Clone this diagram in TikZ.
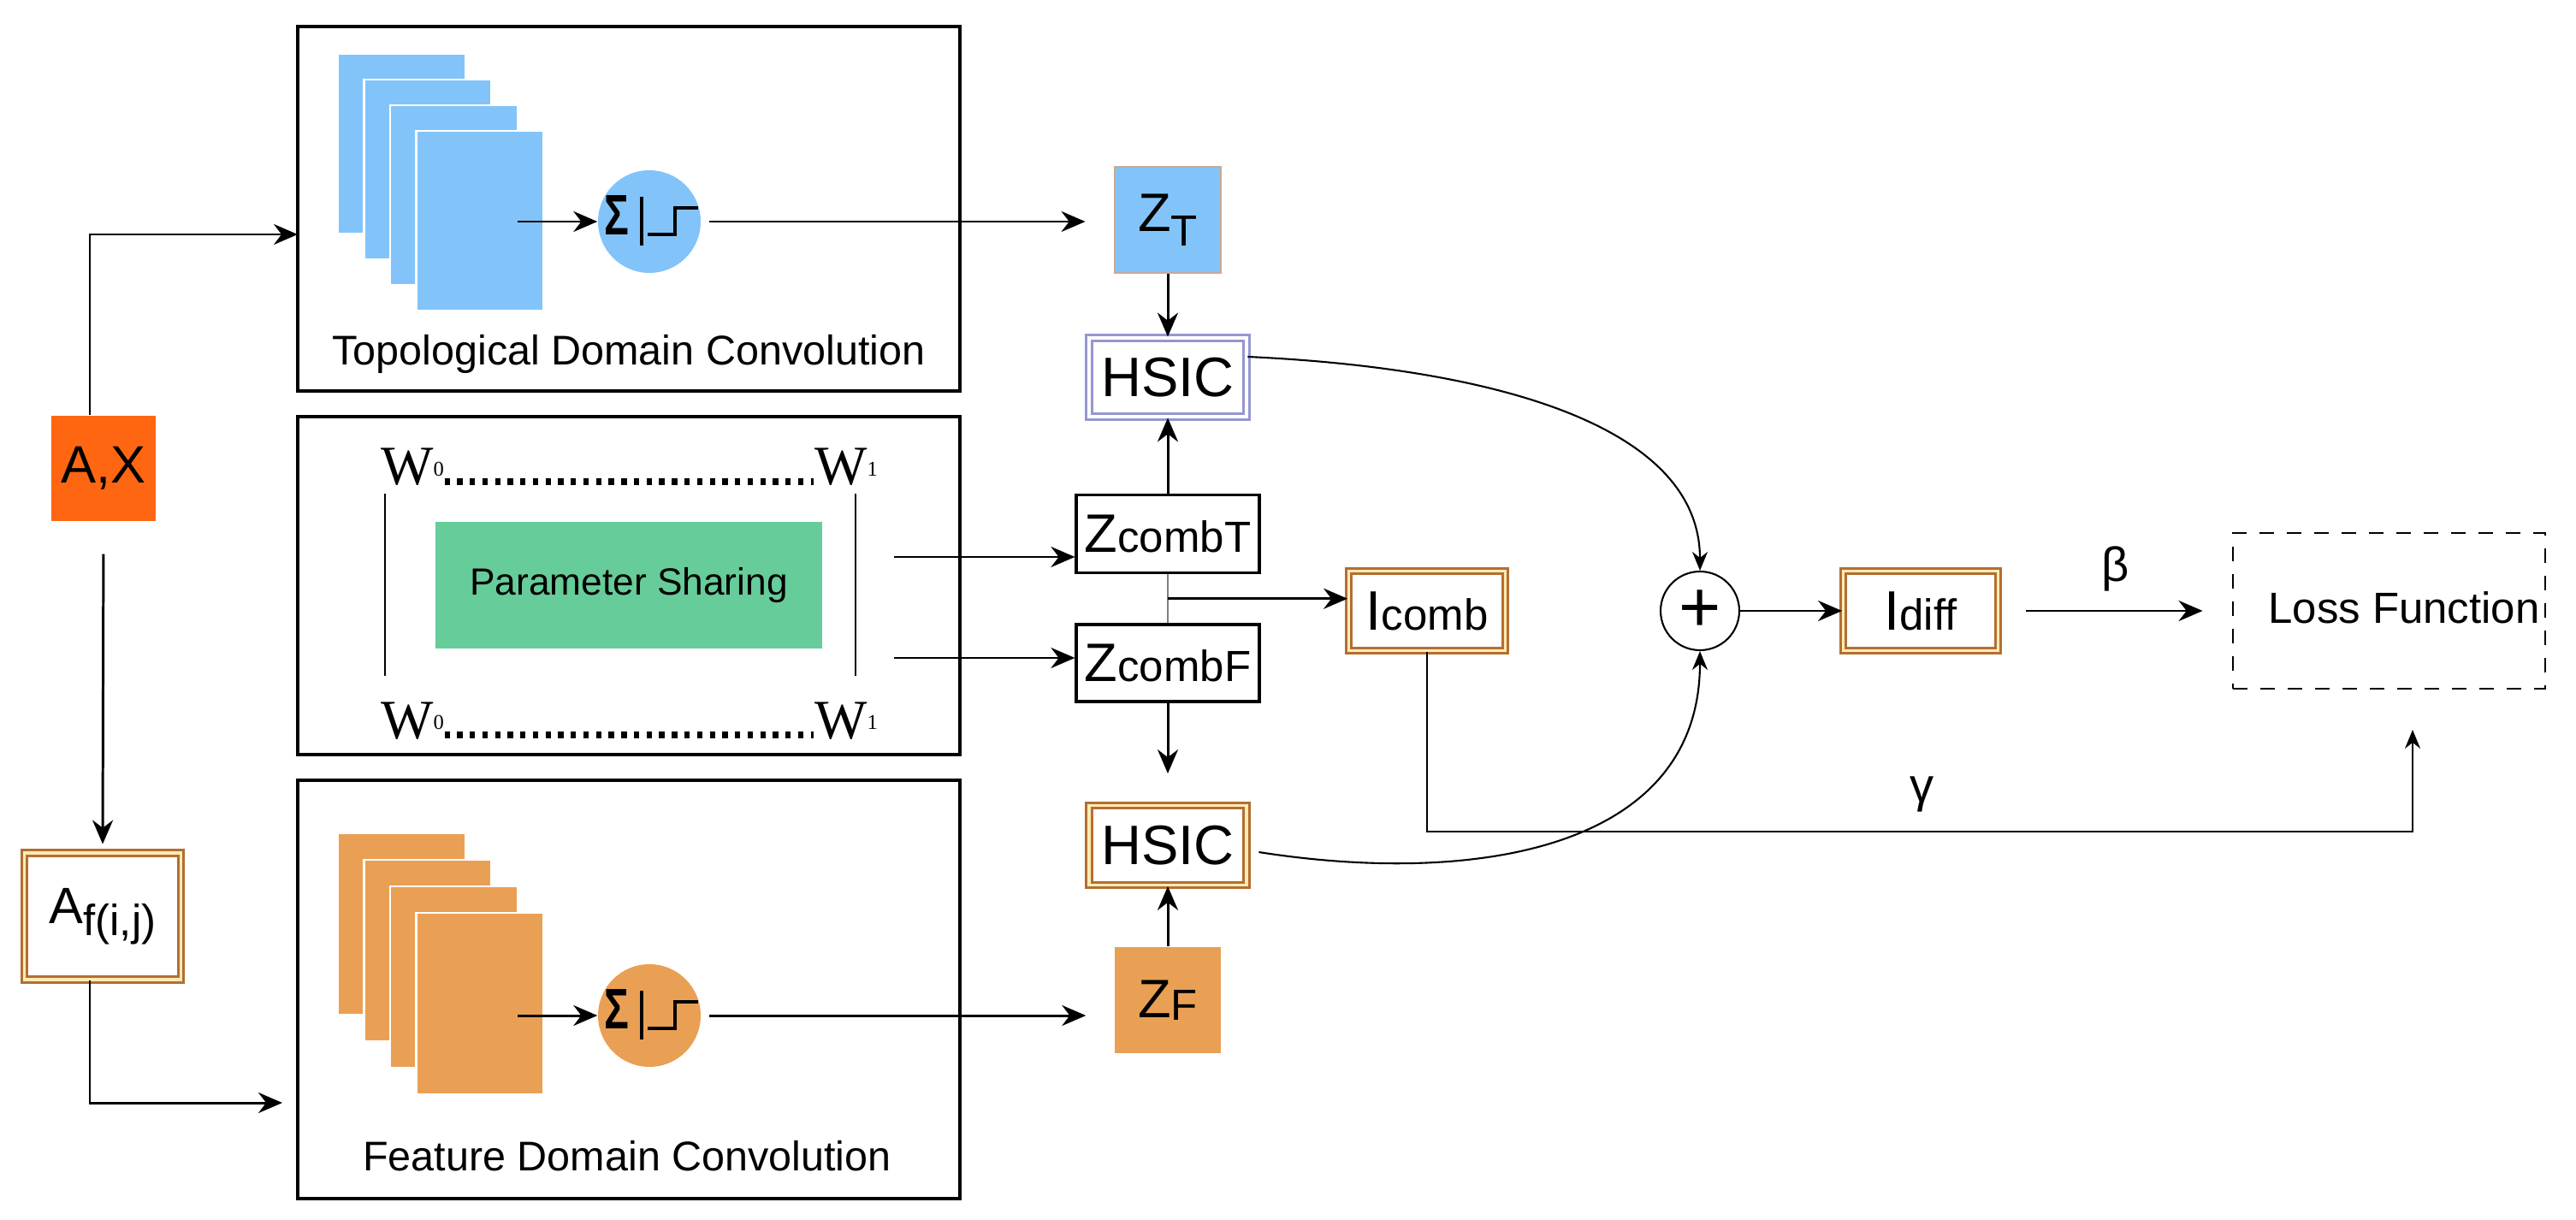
\documentclass[tikz,border=0pt]{standalone}
\usepackage{graphicx}
\usepackage{fontspec}
\setmainfont{Liberation Sans}
\newfontfamily\serifw{Liberation Serif}
\usetikzlibrary{arrows.meta,calc,positioning}

\definecolor{topblue}{RGB}{130,196,250}
\definecolor{featorange}{RGB}{233,160,84}
\definecolor{axorange}{RGB}{255,102,17}
\definecolor{sharegreen}{RGB}{102,204,153}
\definecolor{hsicblue}{RGB}{150,150,210}
\definecolor{framebrown}{RGB}{180,110,50}
\definecolor{framecream}{RGB}{255,235,180}
\definecolor{ztborder}{RGB}{200,170,150}

\newcommand{\smtxt}[1]{{\fontsize{14.5}{15}\selectfont #1}}
\newcommand{\wdig}[1]{\raisebox{3pt}{\fontsize{7}{7}\selectfont #1}}

\begin{document}
\begin{tikzpicture}[>={Stealth[length=2.8mm,width=2.4mm]},
	conn/.style={->,line width=0.85pt},
	fineline/.style={line width=0.6pt},
	smallhead/.style={-{Stealth[length=2.2mm,width=1.8mm]}},
	bigbox/.style={draw,line width=1.1pt,minimum width=7.74cm,inner sep=0pt},
	dframe/.style={draw=framebrown,double=framecream,double distance=1pt,line width=0.8pt,fill=white,inner sep=0pt},
	hframe/.style={dframe,draw=hsicblue,double=white},
	plainbox/.style={draw,line width=0.9pt,fill=white,minimum width=2.14cm,minimum height=0.91cm,inner sep=0pt,font=\fontsize{18}{20}\selectfont},
	zsq/.style={minimum size=1.24cm,inner sep=0pt,font=\fontsize{18}{20}\selectfont},
	bigtxt/.style={font=\fontsize{18.5}{20}\selectfont},
	lbl/.style={font=\fontsize{13.8}{16}\selectfont},
	sigma/.style={circle,minimum size=1.2cm,inner sep=0pt},
	wsty/.style={font=\serifw\fontsize{18.5}{20}\selectfont,inner sep=0pt,anchor=base},
	dotline/.style={line width=2pt,dash pattern=on 1.8pt off 2.4pt}]
	\useasboundingbox (0,0) rectangle (30.11,14.25);

	% inputs
	\node[fill=axorange,minimum width=1.22cm,minimum height=1.23cm,font=\fontsize{17.5}{20}\selectfont] (ax) at (1.21,8.78) {A,X};
	\node[dframe,minimum width=1.83cm,minimum height=1.48cm,font=\fontsize{17}{20}\selectfont] (af) at (1.20,3.54) {A\raisebox{-4pt}{\smtxt{f(i,j)}}};

	% three blocks
	\node[bigbox,minimum height=4.26cm] (topbox) at (7.35,11.81) {};
	\node[bigbox,minimum height=3.95cm] (midbox) at (7.35,7.405) {};
	\node[bigbox,minimum height=4.89cm] (botbox) at (7.35,2.685) {};

	\foreach \i in {0,...,3}
		\filldraw[fill=topblue,draw=white,line width=0.8pt] ({3.95+0.305*\i},{13.62-0.30*\i}) rectangle ++(1.49,-2.10);
	\foreach \i in {0,...,3}
		\filldraw[fill=featorange,draw=white,line width=0.8pt] ({3.95+0.305*\i},{4.51-0.31*\i}) rectangle ++(1.49,-2.12);

	\node[sigma,fill=topblue] (sigT) at (7.59,11.66) {};
	\node[sigma,fill=featorange] (sigF) at (7.59,2.38) {};
	\foreach \s in {sigT,sigF} {
		\node[font=\fontsize{19}{19}\selectfont\bfseries,inner sep=0pt] (\s-sym) at ($(\s)+(-0.38,0.07)$) {\scalebox{0.72}[1]{Σ}};
		\draw[line width=1pt] ($(\s)+(-0.09,0.29)$) -- ($(\s)+(-0.09,-0.28)$);
		\draw[line width=0.9pt] ($(\s)+(-0.02,-0.15)$) -- ++(0.32,0) -- ++(0,0.31) -- ++(0.27,0);
	}

	\node[lbl,anchor=base] (topcap) at (7.35,9.98) {Topological Domain Convolution};
	\node[lbl,anchor=base] (botcap) at (7.33,0.57) {Feature Domain Convolution};

	% parameter sharing
	\node[fill=sharegreen,minimum width=4.52cm,minimum height=1.48cm,font=\fontsize{12.6}{14}\selectfont] (share) at (7.35,7.41) {Parameter Sharing};
	\node[wsty] (w0t) at (4.82,8.58) {W\wdig{0}};
	\node[wsty] (w1t) at (9.89,8.58) {W\wdig{1}};
	\node[wsty] (w0b) at (4.82,5.62) {W\wdig{0}};
	\node[wsty] (w1b) at (9.89,5.62) {W\wdig{1}};
	\draw[dotline] ([yshift=0.4mm]w0t.base east) -- ([yshift=0.4mm]w1t.base west);
	\draw[dotline] ([yshift=0.4mm]w0b.base east) -- ([yshift=0.4mm]w1b.base west);
	\draw[fineline] (4.50,8.48) -- (4.50,6.35);
	\draw[fineline] (10.00,8.48) -- (10.00,6.35);

	% embeddings and HSIC
	\node[zsq,fill=topblue,draw=ztborder,line width=0.8pt] (zt) at (13.65,11.68) {Z\raisebox{-4.7pt}{\smtxt{T}}};
	\node[hframe,minimum width=1.84cm,minimum height=0.92cm,bigtxt] (hsict) at (13.65,9.84) {HSIC};
	\node[plainbox] (zct) at (13.65,8.01) {Z\smtxt{combT}};
	\node[plainbox,minimum height=0.90cm] (zcf) at (13.65,6.50) {Z\smtxt{combF}};
	\node[dframe,minimum width=1.84cm,minimum height=0.93cm,bigtxt] (hsicb) at (13.65,4.37) {HSIC};
	\node[zsq,fill=featorange] (zf) at (13.65,2.56) {Z\raisebox{-1pt}{\smtxt{F}}};

	% losses
	\node[dframe,minimum width=1.83cm,minimum height=0.93cm,bigtxt] (icomb) at (16.68,7.11) {I\smtxt{comb}};
	\node[circle,draw,fineline,minimum size=0.92cm,inner sep=0pt,font=\fontsize{24}{24}\selectfont] (plus) at (19.87,7.11) {+};
	\node[dframe,minimum width=1.81cm,minimum height=0.93cm,bigtxt] (idiff) at (22.45,7.11) {I\smtxt{diff}};
	\node[draw,line width=0.8pt,dash pattern=on 1.7mm off 1.5mm,minimum width=3.65cm,minimum height=1.82cm] (loss) at (27.925,7.11) {};
	\node[anchor=base,font=\fontsize{14.5}{16}\selectfont] (losstxt) at (28.1,6.97) {Loss Function};

	% connectors
	\coordinate (inT) at (3.48,11.51);
	\coordinate (inF) at (3.30,1.36);
	\draw[conn] ([xshift=-1.6mm]ax.north) |- (inT);
	\draw[conn,shorten <=3.85mm,shorten >=0.9mm] (ax.south) -- (af.north);
	\draw[conn] ([xshift=-1.5mm]af.south) |- (inF);

	\coordinate (fmT) at (6.05,11.66);
	\coordinate (fmF) at (6.05,2.38);
	\draw[conn] (fmT) -- (sigT.west);
	\draw[conn] (fmF) -- (sigF.west);
	\draw[conn,shorten <=0.9mm,shorten >=3.3mm] (sigT.east) -- (sigT.east -| zt.west);
	\draw[conn,shorten <=0.9mm,shorten >=3.3mm] (sigF.east) -- (sigF.east -| zf.west);

	\coordinate (msT) at (10.45,7.74);
	\coordinate (msF) at (10.45,6.56);
	\draw[conn] (msT) -- (msT -| zct.west);
	\draw[conn] (msF) -- (msF -| zcf.west);

	\draw[conn] (zt) -- (hsict);
	\draw[conn] (zct) -- (hsict);
	\draw[conn,shorten >=3.6mm] (zcf) -- (hsicb);
	\draw[conn] (zf) -- (hsicb);
	\draw[gray,line width=0.8pt] (zct.south) -- (zcf.north);
	\coordinate (br) at ($(zct.south)!0.5!(zcf.north)$);
	\draw[conn] (br) -- (br -| icomb.west);

	\draw[fineline,smallhead] ([yshift=2.4mm]hsict.east) .. controls (17.4,9.95) and (19.87,9.3) .. (plus.north);
	\draw[fineline,smallhead] ([xshift=1.3mm,yshift=-0.8mm]hsicb.east) .. controls (17.2,3.9) and (19.87,4.3) .. (plus.south);
	\draw[conn] (plus) -- (idiff);
	\draw[conn,shorten <=3.1mm,shorten >=3.4mm] (idiff) -- (loss) node[midway,above=1mm,font=\fontsize{16}{18}\selectfont] (beta) {β};

	\coordinate (gTurn) at (28.20,4.53);
	\coordinate (gEnd) at (28.20,5.72);
	\draw[fineline,smallhead] (icomb.south) |- (gTurn) -- (gEnd);
	\node[font=\fontsize{16}{18}\selectfont] (gamma) at (22.47,4.97) {γ};
\end{tikzpicture}
\end{document}
